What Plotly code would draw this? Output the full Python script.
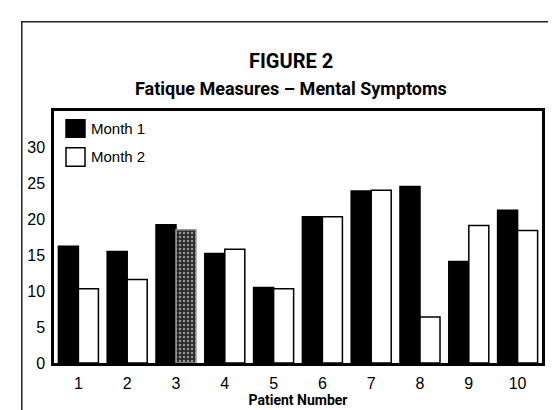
import plotly.graph_objects as go

patients = ["1", "2", "3", "4", "5", "6", "7", "8", "9", "10"]
month1 = [16.2, 15.5, 19.2, 15.2, 10.5, 20.3, 23.9, 24.5, 14.1, 21.2]
month2 = [10.3, 11.6, 18.5, 15.8, 10.3, 20.3, 24.0, 6.4, 19.1, 18.4]
y_ticks = [0, 5, 10, 15, 20, 25, 30]
series_names = ["Month 1", "Month 2"]

# group 3 is smudged (dark grey speckled halo) in the original print
m1_colors = ["#000000"] * len(patients)
m2_colors = ["#ffffff"] * len(patients)
m2_colors[2] = "#2a2a2a"
m2_lines = ["#000000"] * len(patients)
m2_lines[2] = "#9a9a9a"
m2_pattern = [""] * len(patients)
m2_pattern[2] = "."

TICK_FONT = dict(family="Liberation Sans, Arial, sans-serif", size=16, color="#000")
BOLD_FONT = "Roboto, Liberation Sans, Arial, sans-serif"

fig = go.Figure()
fig.add_trace(go.Bar(x=patients, y=month1, name=series_names[0], showlegend=False,
                     marker=dict(color=m1_colors, line=dict(color="#000", width=1.5))))
fig.add_trace(go.Bar(x=patients, y=month2, name=series_names[1], showlegend=False,
                     marker=dict(color=m2_colors, line=dict(color=m2_lines, width=1.5),
                                 pattern=dict(shape=m2_pattern, fgcolor="#8a8a8a",
                                              size=4, solidity=0.3))))

# legend drawn as swatches + labels (the original has large swatches hugging the text)
swatch_fill = ["#000000", "#ffffff"]
swatch_y = [(0.896, 0.965), (0.781, 0.854)]
shapes = [dict(type="rect", xref="paper", yref="paper",
               x0=-0.066, x1=1.031, y0=-0.3, y1=1.354,
               line=dict(color="#222", width=1.5), fillcolor="rgba(0,0,0,0)",
               layer="below")]
annotations = [
    dict(text="<b>FIGURE 2</b>", xref="paper", yref="paper", x=0.485, y=1.2,
         xanchor="center", yanchor="middle", showarrow=False,
         font=dict(family=BOLD_FONT, size=20, color="#000")),
    dict(text="<b>Fatique Measures – Mental Symptoms</b>", xref="paper", yref="paper",
         x=0.485, y=1.088, xanchor="center", yanchor="middle", showarrow=False,
         font=dict(family=BOLD_FONT, size=18, color="#000")),
]
for name, fill, (y0, y1) in zip(series_names, swatch_fill, swatch_y):
    shapes.append(dict(type="rect", xref="paper", yref="paper",
                       x0=0.0246, x1=0.0635, y0=y0, y1=y1,
                       line=dict(color="#000", width=1.5), fillcolor=fill))
    annotations.append(dict(text=name, xref="paper", yref="paper",
                            x=0.071, y=(y0 + y1) / 2, xanchor="left", yanchor="middle",
                            showarrow=False,
                            font=dict(family="Liberation Sans, Arial, sans-serif",
                                      size=15, color="#000")))

fig.update_layout(
    width=556, height=410,
    margin=dict(l=46, r=22, t=103, b=47),
    paper_bgcolor="#ffffff", plot_bgcolor="#ffffff",
    barmode="group", bargap=0.18, bargroupgap=0,
    font=TICK_FONT,
    showlegend=False,
    xaxis=dict(type="category", showgrid=False, showline=True, linecolor="#000",
               linewidth=2.5, mirror=True, ticks="", tickfont=TICK_FONT,
               ticklabelstandoff=4,
               title=dict(text="<b>Patient Number</b>", standoff=4,
                          font=dict(family=BOLD_FONT, size=14, color="#000"))),
    yaxis=dict(range=[0, 35], tickvals=y_ticks, showgrid=False, zeroline=False,
               showline=True, linecolor="#000", linewidth=2.5, mirror=True,
               ticks="", tickfont=TICK_FONT, ticklabelstandoff=3),
    shapes=shapes,
    annotations=annotations,
)

fig.write_html("out.html")
